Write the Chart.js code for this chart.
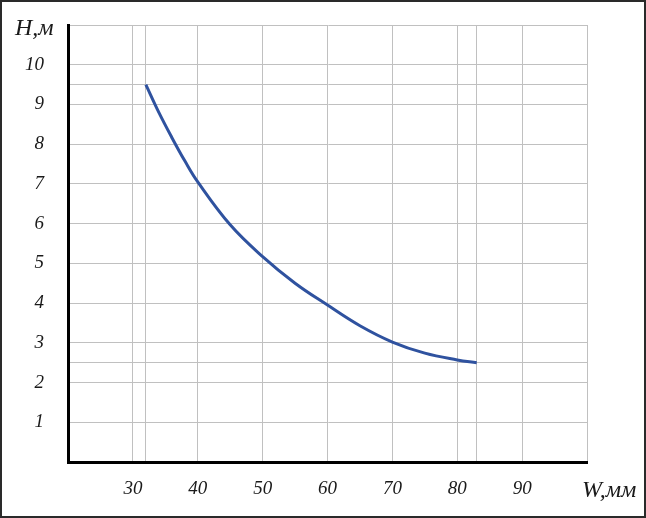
<!DOCTYPE html>
<html>
<head>
<meta charset="utf-8">
<script src="https://cdn.jsdelivr.net/npm/chart.js@4"></script>
<style>
  html, body { margin: 0; padding: 0; background: #fff; }
  #wrap { width: 646px; height: 518px; }
</style>
</head>
<body>
<div id="wrap"><canvas id="c" width="646" height="518"></canvas></div>
<script>
// ---- data ----
const widthsMm  = [32, 34, 36, 38, 40, 45, 50, 55, 60, 65, 70, 75, 80, 83];
const heightsM  = [9.5, 8.8, 8.17, 7.58, 7.05, 5.97, 5.17, 4.5, 3.95, 3.43, 3.02, 2.74, 2.57, 2.5];
const xTickLabels = [30, 40, 50, 60, 70, 80, 90];
const yTickLabels = [1, 2, 3, 4, 5, 6, 7, 8, 9, 10];
const dropLinesX = [32, 83];
const dropLinesY = [9.5, 2.5];
const xTitle = 'W,мм';
const yTitle = 'H,м';

const serif = '"Liberation Serif", "Times New Roman", serif';
const points = widthsMm.map((w, i) => ({ x: w, y: heightsM[i] }));

function addTicks(extra) {
  return function (scale) {
    const vals = scale.ticks.map(t => t.value);
    extra.forEach(v => { if (!vals.includes(v)) scale.ticks.push({ value: v }); });
    scale.ticks.sort((a, b) => a.value - b.value);
  };
}

const decor = {
  id: 'decor',
  afterDraw(chart) {
    const ctx = chart.ctx;
    const a = chart.chartArea;
    ctx.save();
    // outer frame
    ctx.strokeStyle = '#2a2a2a';
    ctx.lineWidth = 2;
    ctx.strokeRect(1, 1, chart.width - 2, chart.height - 2);
    // axis titles
    ctx.fillStyle = '#1a1a1a';
    ctx.font = 'italic 24px ' + serif;
    ctx.textBaseline = 'alphabetic';
    ctx.textAlign = 'left';
    ctx.fillText(yTitle, 15, 35);
    ctx.fillText(xTitle, a.right - 5, 497);
    ctx.restore();
  }
};

new Chart(document.getElementById('c'), {
  type: 'line',
  data: {
    datasets: [{
      data: points,
      borderColor: '#2f529f',
      borderWidth: 3,
      pointRadius: 0,
      fill: false,
      tension: 0.4
    }]
  },
  options: {
    responsive: false,
    animation: false,
    layout: { padding: { left: 0, right: 59, top: 25, bottom: 0 } },
    plugins: { legend: { display: false }, tooltip: { enabled: false } },
    scales: {
      x: {
        type: 'linear',
        min: 20, max: 100,
        afterFit(s) { s.height = 56; s.paddingLeft = 0; s.paddingRight = 0; },
        afterBuildTicks: addTicks(dropLinesX),
        border: { color: '#000', width: 3 },
        grid: { color: '#c0c0c0', lineWidth: 1, drawTicks: false },
        ticks: {
          stepSize: 10,
          autoSkip: false,
          maxRotation: 0,
          padding: 16,
          color: '#1a1a1a',
          font: { family: serif, size: 19, style: 'italic' },
          callback: (v) => xTickLabels.includes(v) ? String(v) : ''
        }
      },
      y: {
        type: 'linear',
        min: 0, max: 11,
        afterFit(s) { s.width = 68; s.paddingTop = 0; s.paddingBottom = 0; },
        afterBuildTicks: addTicks(dropLinesY),
        border: { color: '#000', width: 3 },
        grid: { color: '#c0c0c0', lineWidth: 1, drawTicks: false },
        ticks: {
          stepSize: 1,
          autoSkip: false,
          padding: 24,
          color: '#1a1a1a',
          font: { family: serif, size: 19, style: 'italic' },
          callback: (v) => yTickLabels.includes(v) ? String(v) : ''
        }
      }
    }
  },
  plugins: [decor]
});
</script>
</body>
</html>
